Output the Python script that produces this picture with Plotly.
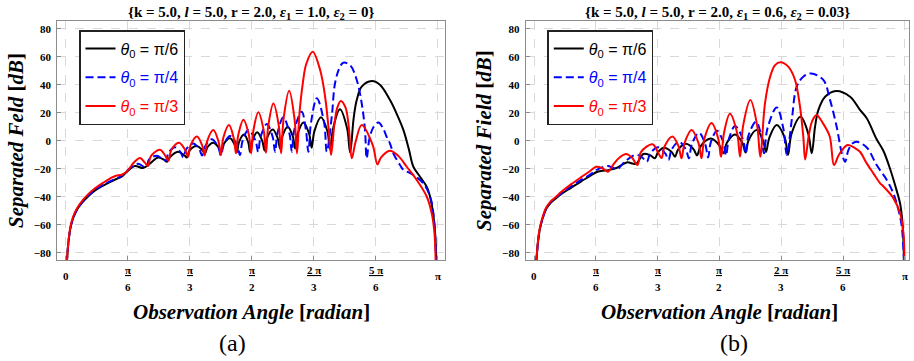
import plotly.graph_objects as go

# ---------------- data (angle in degrees, field in dB) ----------------
tick_deg = [0, 30, 60, 90, 120, 150, 180]
tick_num = ["π", "π", "π", "2 π", "5 π"]
tick_den = ["6", "3", "2", "3", "6"]
tick_end = ["0", "π"]
y_ticks = [-80, -60, -40, -20, 0, 20, 40, 60, 80]

# (a)  eps1 = 1.0, eps2 = 0
a_black = [(0.5,-88),(1.3,-73),(2.1,-64),(3.0,-58),(4.5,-52),(6.9,-46),(10.3,-40.5),(14.2,-35.5),
    (18.1,-32),(21.4,-29.5),(24.3,-27.5),(27.2,-25.5),(29.7,-22),(33.5,-18),(37.4,-19.5),(41,-16),
    (44.7,-12),(47.5,-13.5),(49.0,-15),(50.3,-12),(54.3,-7.9),(57.4,-10.5),(58.7,-12),(60.0,-6.8),
    (63.5,-3.8),(66.1,-6.8),(67.4,-9),(68.6,-4.6),(71.4,-1.4),(73.9,-4.6),(75.1,-8),(76.3,-2.7),
    (79.5,1.7),(81.7,-2.7),(82.9,-8),(83.8,-1.1),(86.3,4.5),(88.3,-1.1),(89.2,-8),(90.3,-0.1),
    (92.6,6),(95.1,-0.1),(96.2,-7),(97.3,1.6),(100.2,8.1),(102.6,1.6),(103.7,-5.5),(104.8,3.0),
    (107.4,10),(109.9,3.0),(111.0,-5.5),(112.2,4.8),(115.0,13.1),(117.8,4.8),(119.0,-5),(120.3,6.7),
    (123.5,16.7),(126.6,6.7),(127.9,-6.2),(129.4,9.0),(132.7,22.4),(136.1,9.0),(137.6,-8.5),
    (139.3,16),(140.8,29),(143.2,38.6),(148.1,42.6),(152,40),(156.9,29),(160.5,18),(163.4,7.6),
    (166,-6),(168.2,-18.6),(171.4,-25.7),(174.7,-33),(176.6,-42),(178.0,-55),(178.9,-70),(179.3,-88)]

a_blue = [(0.5,-88),(1.3,-73),(2.1,-64),(3.0,-58),(4.5,-52),(6.9,-46),(10.3,-40),(14.2,-35),
    (18.1,-31.5),(21.4,-29),(24.3,-27),(27.2,-25),(29.7,-21.5),(32,-18.5),(35,-16.5),(38.9,-19),
    (40.3,-13.3),(44.0,-10.7),(47.1,-13.3),(48.5,-14),(49.8,-8.4),(52.9,-4.7),(55.6,-8.4),(56.9,-11.9),
    (58.3,-6.1),(61.7,-1.9),(64.6,-6.1),(66.0,-10.5),(67.4,-4.2),(70.6,1),(73.7,-4.2),(75.1,-10.5),
    (76.5,-2.8),(79.5,3.4),(82.9,-2.8),(84.3,-10.2),(85.6,0.1),(88.4,7.6),(91.8,0.1),(93.1,-8),
    (94.3,2.9),(97.3,11.9),(100.1,2.9),(101.3,-7.9),(102.5,5.6),(105.3,16.7),(108.2,5.6),(109.4,-7.9),
    (110.6,7.8),(114.2,20.7),(116.2,7.8),(117.4,-7.9),(118.7,13.1),(121.5,30.3),(125.0,13.1),
    (126.3,-7.9),(128.7,17),(130.3,41),(132.7,52.9),(134.3,55.7),(137.6,54),(140.8,43.4),
    (143.2,26.7),(144.8,7.6),(145.6,-12.6),(147,2),(149,10),(151.3,13),(153.5,9),(155.5,2),
    (156.9,-2),(158.5,-9),(161.8,-17.5),(163.4,-20.9),(165,-22),(168.2,-24.5),(173,-30.4),
    (176.3,-40),(177.9,-52),(178.8,-70),(179.2,-88)]

a_red = [(0.5,-88),(1.3,-72),(2.1,-63),(3.0,-57),(4.5,-51),(6.9,-45),(10.3,-39),(14.2,-34),
    (18.1,-30),(21.4,-27),(24.3,-25),(27.2,-24.3),(30.2,-21),(33.0,-15.5),(36.0,-12.3),(38.2,-15.5),
    (39.8,-18),(41.3,-10.8),(45.6,-6.5),(48.2,-10.8),(49.7,-14.3),(51.1,-6.6),(54.8,-1.5),(57.8,-6.6),
    (59.2,-11.4),(60.4,-3.3),(63.5,3),(66.0,-3.3),(67.2,-10.5),(68.4,-0.5),(71.4,7.6),(73.9,-0.5),
    (75.1,-10.2),(76.2,1.8),(79.0,11.2),(81.3,1.8),(82.4,-9),(83.5,4.2),(86.0,15),(88.6,4.2),
    (89.7,-9),(90.8,7.2),(93.2,20.3),(95.8,7.2),(96.9,-8.6),(98.0,10.6),(100.5,26.5),(103.1,10.6),
    (104.2,-9),(105.4,15.6),(108.1,35.7),(110.7,15.6),(111.9,-9),(113.1,19.6),(114.7,41),(116.4,55),
    (119.5,63.6),(123.1,50.5),(125.5,31.4),(127.1,10),(128.4,-10.2),(129.9,10.5),(131.4,23.6),
    (133.1,28.4),(135.4,23.6),(136.9,10.5),(138.4,-12.6),(140.2,-1),(143.2,11.2),(148.5,-3),
    (150.8,-16.9),(152.5,-12),(156.9,-7.1),(161.0,-11),(165.0,-18.6),(169.8,-28),(174.7,-40),
    (177.1,-52),(178.4,-66),(179.0,-88)]

# (b)  eps1 = 0.6, eps2 = 0.03
b_black = [(1.0,-88),(1.9,-73),(2.6,-65),(3.5,-59),(5.8,-49),(8,-44.5),(10.7,-41),(13.3,-38),
    (18.1,-33.5),(22.9,-29),(26.9,-25.5),(30.2,-22.5),(33,-21.5),(36,-21),(40,-19.5),(45,-15.5),
    (49.5,-16.5),(53.1,-9.5),(56.5,-10.5),(58.7,-12.5),(60.2,-8.2),(63.1,-5),(66.9,-8.2),(68.4,-11.5),
    (70.0,-6.2),(73.8,-2.2),(77.5,-6.2),(79.1,-10.5),(81.0,-3.6),(85.9,1.5),(90.1,-3.6),(92.0,-9),
    (93.6,-1.5),(97.6,4.5),(101.1,-1.5),(102.7,-8.5),(104.2,0.5),(108.1,7.6),(111.1,0.5),(112.6,-8),
    (114.2,2.1),(117.8,11.2),(121.7,2.1),(123.3,-10),(125.0,5.1),(129.4,17.1),(133.1,5.1),(134.8,-9),
    (136.4,10),(138.0,21.9),(141.3,31.4),(146.6,35.5),(153.4,31.4),(158.2,22),(161.5,16),(166.3,1),
    (169.5,-7),(172.8,-20),(176.1,-36),(177.7,-45),(178.9,-60),(179.6,-88)]

b_blue = [(1.0,-88),(1.9,-73),(2.6,-65),(3.5,-59),(5.8,-49),(8,-44),(10.7,-40.5),(13.3,-37.5),
    (18.1,-32.5),(22.9,-28),(26.9,-24.5),(30.2,-21),(33,-19),(35.9,-18),(38.5,-19.5),(40.7,-20),
    (44,-15),(49.5,-10),(52.5,-12),(54.8,-15),(56.4,-9.1),(60.2,-4.7),(63.7,-9.1),(65.3,-13.8),
    (66.8,-6.3),(70.4,-0.7),(73.7,-6.3),(75.2,-12.6),(76.6,-2.4),(80.1,5.7),(83.1,-2.4),(84.5,-12),
    (85.8,-1.2),(88.8,7.1),(91.9,-1.2),(93.2,-10.5),(94.6,1.4),(97.6,10.5),(101.3,1.4),(102.7,-9),
    (104.0,3.4),(107.8,13.6),(110.3,3.4),(111.6,-9),(113.3,8.8),(117.8,23.8),(121.0,8.8),(122.7,-10.2),
    (125.1,14.8),(127.5,38.6),(130.7,45.7),(134.5,48),(140.4,43.4),(143.7,29),(146.9,10),(149.4,-9),
    (151.0,-15),(152.5,-7),(154.5,-2),(156.6,-0.7),(161.5,-4.8),(166.3,-17.4),(171.2,-28),
    (174.4,-37.6),(176.9,-49.5),(178.5,-61.4),(179.6,-88)]

b_red = [(1.0,-88),(1.9,-72),(2.6,-64),(3.5,-58),(5.8,-48),(8,-43.5),(10.7,-40),(13.3,-36.5),
    (18.1,-31),(22.9,-26),(26.9,-22),(30.2,-18.6),(33,-19.5),(35.9,-22.1),(38.5,-17),(41.5,-12),
    (44.7,-9.5),(47.5,-12),(50.2,-17.4),(51.9,-8.1),(57.5,-2.5),(60.1,-8.1),(61.9,-12.4),(63.4,-3.9),
    (67.2,3.1),(70.1,-3.9),(71.6,-12.6),(73.1,-1.5),(76.5,7.6),(79.8,-1.5),(81.3,-12.6),(82.7,1.6),
    (86.2,12.7),(89.4,1.6),(90.8,-11.4),(92.2,5.4),(95.1,19.2),(98.6,5.4),(100.0,-11.4),(101.5,10.8),
    (105.0,29),(108.3,10.8),(109.8,-11.4),(112.1,26.7),(114.6,45.7),(117.0,54),(119.6,56),
    (123.4,52.9),(126.7,43.4),(129.1,24.3),(130.7,2.9),(131.6,-13.5),(133.3,3.2),(135,14),
    (137.1,18.4),(140,13),(143.5,3.2),(145.6,-17.4),(148,-10),(152.2,-3.1),(156,-5.5),(158.2,-7.9),
    (161.5,-16.2),(164.7,-23.3),(168.0,-30.4),(169.5,-32.5),(174.4,-41),(177.7,-52),(179.3,-66),
    (179.8,-88)]

series_names = ["<i>θ</i><sub>0</sub> = π/6", "<i>θ</i><sub>0</sub> = π/4", "<i>θ</i><sub>0</sub> = π/3"]
colors = ["#000000", "#0000ff", "#ff0000"]
dashes = ["solid", "8px,4px", "solid"]
panel_titles = [
    "<b>{k = 5.0, <i>l</i> = 5.0, r = 2.0, <i>ε</i><sub>1</sub> = 1.0, <i>ε</i><sub>2</sub> = 0}</b>",
    "<b>{k = 5.0, <i>l</i> = 5.0, r = 2.0, <i>ε</i><sub>1</sub> = 0.6, <i>ε</i><sub>2</sub> = 0.03}</b>",
]
y_titles = ["<b><i>Separated Feld</i> [<i>dB</i>]</b>", "<b><i>Separated Field</i> [<i>dB</i>]</b>"]
x_title = "<b><i>Observation Angle</i> [<i>radian</i>]</b>"
panel_tags = ["(a)", "(b)"]

# ---------------- layout geometry (page body margin removed below) ----------------
W, H = 914, 361
px = lambda v: v / W
py = lambda v: (H - v) / H
dom_x = [[px(57.3), px(445.0)], [px(525.7), px(909.0)]]
dom_y = [py(260.3), py(21.0)]
x_ranges = [[-4.06, 183.5], [-4.03, 182.0]]
y_range = [-85.4, 85.5]

fig = go.Figure()
panels = [[a_black, a_blue, a_red], [b_black, b_blue, b_red]]
for p, group in enumerate(panels):
    xa = "x" if p == 0 else "x2"
    ya = "y" if p == 0 else "y2"
    leg = "legend" if p == 0 else "legend2"
    for s, pts in enumerate(group):
        fig.add_trace(go.Scatter(
            x=[q[0] for q in pts], y=[q[1] for q in pts],
            mode="lines", line=dict(color=colors[s], width=2, dash=dashes[s], shape="spline", smoothing=1),
            name=f"<span style='color:{colors[s]}'>{series_names[s]}</span>",
            legendgroup=f"g{p}{s}", legend=leg, xaxis=xa, yaxis=ya, showlegend=True,
        ))

axis_common = dict(showline=True, mirror=True, linecolor="#8c8c8c", linewidth=1.2,
                   showgrid=True, gridcolor="#d9d9d9", griddash="dash", gridwidth=1,
                   zeroline=False, ticks="inside", ticklen=4, tickcolor="#8c8c8c")
for p in range(2):
    sfx = "" if p == 0 else "2"
    fig.layout["xaxis" + sfx] = dict(axis_common, domain=dom_x[p], range=x_ranges[p],
                                      tickvals=tick_deg, showticklabels=False,
                                      anchor="y" + sfx)
    fig.layout["yaxis" + sfx] = dict(axis_common, domain=dom_y, range=y_range,
                                      tickvals=y_ticks, anchor="x" + sfx,
                                      tickfont=dict(family="Liberation Serif", size=11, color="black", weight="bold"),
                                      ticklabelstandoff=3)

annotations = []
serif = "Liberation Serif"
xref_list = ["x", "x2"]
for p in range(2):
    # x tick labels as stacked fractions
    for i, v in enumerate(tick_deg[1:-1]):
        annotations.append(dict(x=v, y=py(269.5), xref=xref_list[p], yref="paper", showarrow=False,
                                text=f"<b><u>{tick_num[i]}</u></b>", xanchor="center", yanchor="middle",
                                font=dict(family=serif, size=11, color="black")))
        annotations.append(dict(x=v, y=py(286.7), xref=xref_list[p], yref="paper", showarrow=False,
                                text=f"<b>{tick_den[i]}</b>", xanchor="center", yanchor="middle",
                                font=dict(family=serif, size=11, color="black")))
    for v, t in zip([tick_deg[0], tick_deg[-1]], tick_end):
        annotations.append(dict(x=v, y=py(275.5), xref=xref_list[p], yref="paper", showarrow=False,
                                text=f"<b>{t}</b>", xanchor="center", yanchor="middle",
                                font=dict(family=serif, size=11, color="black")))
    cx = (dom_x[p][0] + dom_x[p][1]) / 2
    annotations.append(dict(x=cx, y=py(13), xref="paper", yref="paper", showarrow=False,
                            text=panel_titles[p], xanchor="center", yanchor="middle",
                            font=dict(family=serif, size=15, color="black")))
    annotations.append(dict(x=[px(251), px(719)][p], y=py(311.7), xref="paper", yref="paper",
                            showarrow=False, text=x_title, xanchor="center", yanchor="middle",
                            font=dict(family=serif, size=21, color="black")))
    annotations.append(dict(x=[px(16), px(484)][p], y=py(141), xref="paper", yref="paper",
                            showarrow=False, text=y_titles[p], textangle=-90, xanchor="center",
                            yanchor="middle", font=dict(family=serif, size=21, color="black")))
    annotations.append(dict(x=[px(233), px(734)][p], y=py(343), xref="paper", yref="paper",
                            showarrow=False, text=panel_tags[p], xanchor="center", yanchor="middle",
                            font=dict(family=serif, size=24, color="black")))

legend_common = dict(xanchor="left", yanchor="top", bgcolor="white", bordercolor="#222222",
                     borderwidth=1.5, font=dict(family="Liberation Sans", size=16, color="black"),
                     tracegroupgap=5, traceorder="grouped", itemwidth=30)
fig.update_layout(
    width=W, height=H, margin=dict(l=0, r=0, t=0, b=0),
    paper_bgcolor="white", plot_bgcolor="white",
    annotations=annotations,
    legend=dict(legend_common, x=px(79), y=py(30)),
    legend2=dict(legend_common, x=px(547.3), y=py(30)),
)
fig.write_html("out.html", config={"displayModeBar": False},
               post_script="document.body.style.margin='0';document.body.style.overflow='hidden';")
